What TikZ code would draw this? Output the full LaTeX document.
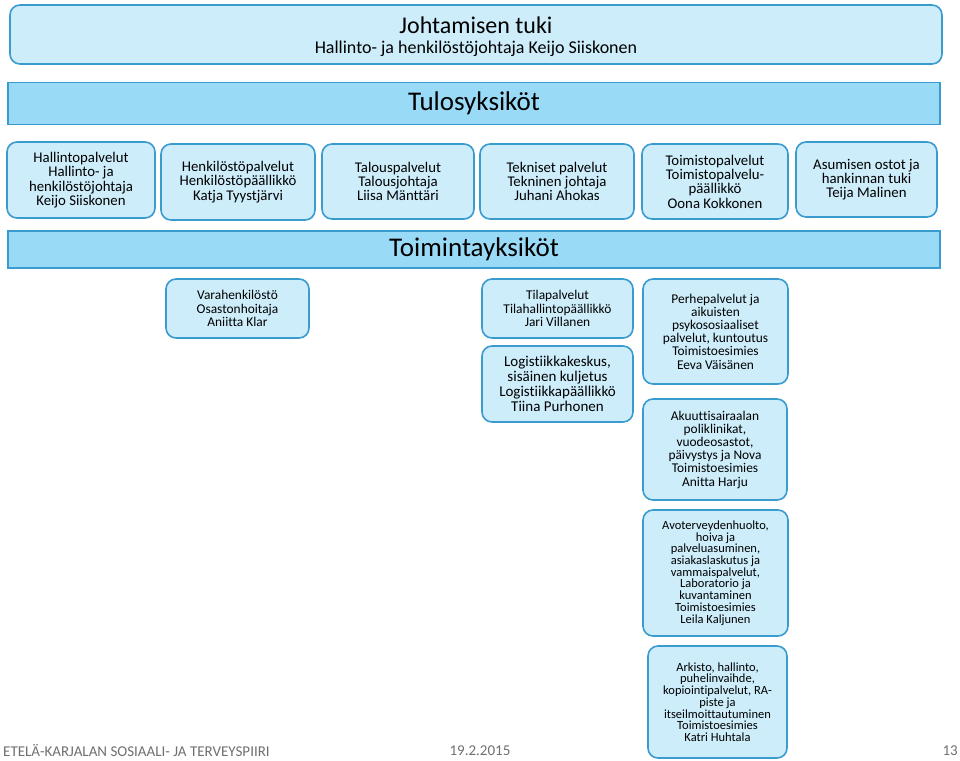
\documentclass[tikz,border=0pt]{standalone}
\usepackage{fontspec}
\setmainfont[Ligatures=NoCommon]{Carlito}
\definecolor{lightc}{HTML}{CDEDFB}
\definecolor{darkc}{HTML}{99DAF6}
\definecolor{bordc}{HTML}{3A9BCF}
\definecolor{footc}{HTML}{6F6F6F}
\tikzset{
  ubox/.style={draw=bordc, fill=lightc, rounded corners=10pt, line width=1.6pt, align=center, inner sep=2pt, text=black},
  bar/.style={draw=bordc, fill=darkc, line width=1.6pt, align=center, inner sep=0pt},
  fa/.style={font=\fontsize{14.8}{14.3}\selectfont},
  fb/.style={font=\fontsize{13.4}{13.2}\selectfont},
  fc/.style={font=\fontsize{15}{14.8}\selectfont},
  fd/.style={font=\fontsize{12.5}{11.7}\selectfont},
  foot/.style={text=footc, font=\fontsize{15}{16}\selectfont, inner sep=0pt}
}
\begin{document}
\begin{tikzpicture}[x=1pt,y=-1pt]
\useasboundingbox (0,0) rectangle (960,760);
% header
\node[ubox, minimum width=932, minimum height=59] (head) at (476,34.5) {};
\node[font=\fontsize{24}{26}\selectfont] (headt) at (476,25) {Johtamisen tuki};
\node[font=\fontsize{18}{20}\selectfont] (heads) at (476,49) {Hallinto- ja henkilöstöjohtaja Keijo Siiskonen};
% Tulosyksikot bar
\node[bar, minimum width=932, minimum height=42, font=\fontsize{27}{29}\selectfont] (tulos) at (474,103.5) {Tulosyksiköt};
% row of result units
\node[ubox, fa, minimum width=148, minimum height=76] (hal) at (81,180) {Hallintopalvelut\\Hallinto- ja\\henkilöstöjohtaja\\Keijo Siiskonen};
\node[ubox, fa, minimum width=154, minimum height=76] (hen) at (238,182) {Henkilöstöpalvelut\\Henkilöstöpäällikkö\\Katja Tyystjärvi};
\node[ubox, fa, minimum width=152, minimum height=75] (tal) at (398,181.5) {Talouspalvelut\\Talousjohtaja\\Liisa Mänttäri};
\node[ubox, fa, minimum width=154, minimum height=75] (tek) at (557,181.5) {Tekniset palvelut\\Tekninen johtaja\\Juhani Ahokas};
\node[ubox, fa, minimum width=146, minimum height=75] (toi) at (715,181.5) {Toimistopalvelut\\Toimistopalvelu-\\päällikkö\\Oona Kokkonen};
\node[ubox, fa, minimum width=141, minimum height=75] (asu) at (866.5,179.5) {Asumisen ostot ja\\hankinnan tuki\\Teija Malinen};
% Toimintayksikot bar
\node[bar, minimum width=932, minimum height=37, font=\fontsize{27}{29}\selectfont] (toim) at (474,249.5) {Toimintayksiköt};
% operating units
\node[ubox, fb, minimum width=143, minimum height=59] (vara) at (237.5,308.5) {Varahenkilöstö\\Osastonhoitaja\\Aniitta Klar};
\node[ubox, fb, minimum width=151, minimum height=59] (tila) at (557.5,308.5) {Tilapalvelut\\Tilahallintopäällikkö\\Jari Villanen};
\node[ubox, fc, minimum width=151, minimum height=76] (logi) at (557.5,384) {Logistiikkakeskus,\\sisäinen kuljetus\\Logistiikkapäällikkö\\Tiina Purhonen};
\node[ubox, fb, minimum width=145, minimum height=105] (perhe) at (715.5,331.5) {Perhepalvelut ja\\aikuisten\\psykososiaaliset\\palvelut, kuntoutus\\Toimistoesimies\\Eeva Väisänen};
\node[ubox, fb, minimum width=144, minimum height=101] (akuu) at (715,449.5) {Akuuttisairaalan\\poliklinikat,\\vuodeosastot,\\päivystys ja Nova\\Toimistoesimies\\Anitta Harju};
\node[ubox, fd, minimum width=145, minimum height=126] (avo) at (715.5,573) {Avoterveydenhuolto,\\hoiva ja\\palveluasuminen,\\asiakaslaskutus ja\\vammaispalvelut,\\Laboratorio ja\\kuvantaminen\\Toimistoesimies\\Leila Kaljunen};
\node[ubox, fd, minimum width=139, minimum height=112] (ark) at (717.5,702) {Arkisto, hallinto,\\puhelinvaihde,\\kopiointipalvelut, RA-\\piste ja\\itseilmoittautuminen\\Toimistoesimies\\Katri Huhtala};
% footer
\node[foot, anchor=west] (f1) at (3,751) {ETELÄ-KARJALAN SOSIAALI- JA TERVEYSPIIRI};
\node[foot] (f2) at (480,751) {19.2.2015};
\node[foot, anchor=east] (f3) at (958,751) {13};
\end{tikzpicture}
\end{document}
